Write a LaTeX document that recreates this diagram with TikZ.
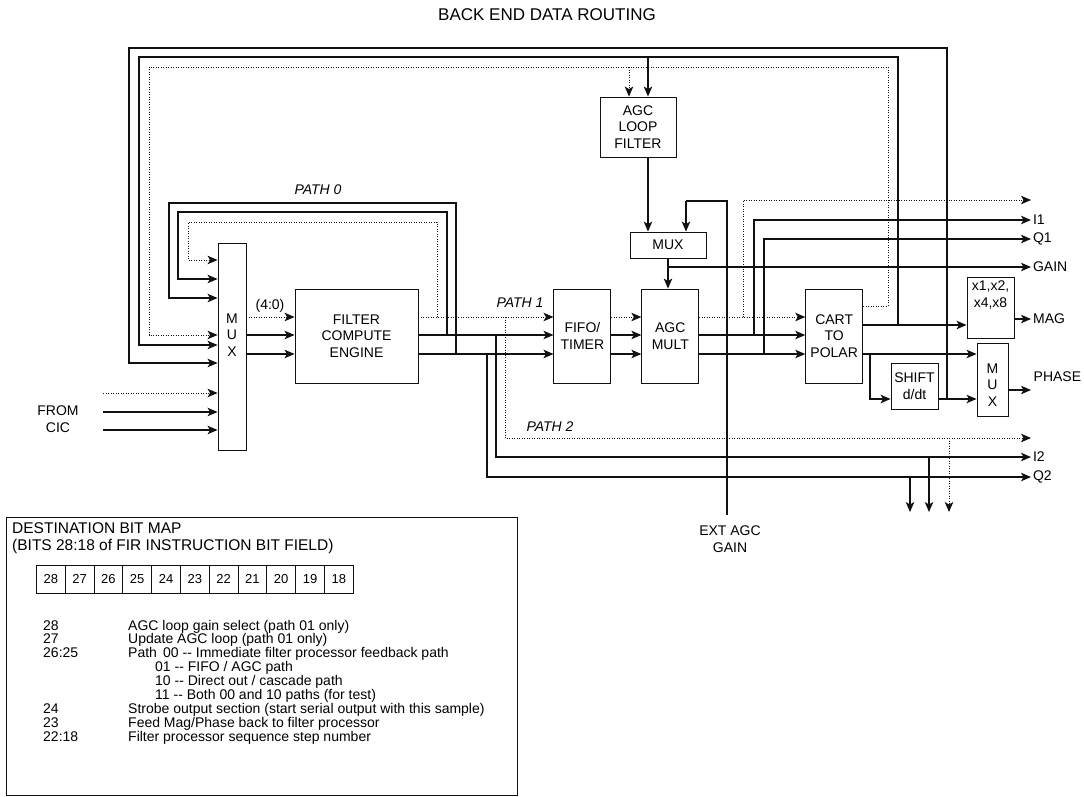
\documentclass[tikz,border=0pt]{standalone}
\usepackage{fontspec}
\setmainfont{Liberation Sans}
\usepackage{tikz}
\usetikzlibrary{arrows.meta,positioning,calc}
\definecolor{ink}{HTML}{111111}
\tikzset{
  routing diagram/.style={
    x=1pt, y=-1pt,
    font=\fontsize{14}{16.7}\selectfont,
    >={Stealth[length=10pt,width=8.5pt,inset=2.5pt]},
    line join=miter
  },
  blockbox/.style={
    draw=ink,
    line width=0.9pt,
    align=center,
    inner sep=0pt
  },
  lettertext/.style={align=center, inner sep=0pt},
  sigline/.style={draw=ink, line width=1.15pt},
  sigarrow/.style={sigline, ->},
  ctlline/.style={draw=ink, line width=0.9pt, dash pattern=on 0.9pt off 1.6pt},
  ctlarrow/.style={ctlline, ->},
  pathtag/.style={font=\fontsize{14}{16}\selectfont\itshape, inner sep=0pt},
  portlabel/.style={anchor=west, inner sep=1.5pt},
  bitcell/.style={
    draw=ink,
    line width=0.8pt,
    minimum width=28.8pt,
    minimum height=28pt,
    inner sep=0pt,
    font=\fontsize{13}{15}\selectfont
  },
  maphead/.style={anchor=west, inner sep=0pt, font=\fontsize{15.5}{17}\selectfont},
  maptext/.style={anchor=west, inner sep=0pt, text height=10pt, text depth=3pt,
    font=\fontsize{14}{15}\selectfont}
}
\begin{document}
\begin{tikzpicture}[routing diagram]
\fill[white] (0,0) rectangle (1084,796);
\useasboundingbox (0,0) rectangle (1084,796);

\node[font=\fontsize{17}{20}\selectfont] (title) at (547,15) {BACK END DATA ROUTING};

% main chain
\node[blockbox, minimum width=28pt, minimum height=207pt] (mux) at (232,346.5) {};
\node[lettertext] (muxtxt) at (232,335) {M\\U\\X};
\node[blockbox, minimum width=123pt, minimum height=94pt] (fce) at (356.5,336) {FILTER\\COMPUTE\\ENGINE};
\node[blockbox, minimum width=57pt, minimum height=94pt, right=135pt of fce] (fifo) {FIFO/\\TIMER};
\node[blockbox, minimum width=57pt, minimum height=94pt, right=30pt of fifo] (agcmult) {AGC\\MULT};
\node[blockbox, minimum width=57pt, minimum height=94pt, right=106pt of agcmult] (cart) {CART\\TO\\POLAR};

% agc loop
\node[blockbox, minimum width=76pt, minimum height=60pt] (agcfilt) at (638,127) {AGC\\LOOP\\FILTER};
\node[blockbox, minimum width=76pt, minimum height=26pt] (mux2) at (668,245) {MUX};

% output section
\node[blockbox, minimum width=47pt, minimum height=61pt] (scale) at (990.5,307.5) {};
\node[lettertext, anchor=north] (scaletxt) at ($(scale.north)+(0,4)$) {x1,x2,\\x4,x8};
\node[blockbox, minimum width=47pt, minimum height=46pt] (shift) at (914.5,386) {SHIFT\\d/dt};
\node[blockbox, minimum width=31pt, minimum height=73pt] (pmux) at (992.5,379.5) {};
\node[lettertext] (pmuxtxt) at (992.5,385) {M\\U\\X};

% labels
\node[align=center, inner sep=1pt] (cic) at (58,419) {FROM\\CIC};
\node[align=center, inner sep=1pt] (extagc) at (730,539) {EXT AGC\\GAIN};
\node[pathtag] (path0) at (318,190) {PATH 0};
\node[pathtag] (path1) at (520,303) {PATH 1};
\node[pathtag] (path2) at (550,427) {PATH 2};
\node[inner sep=0pt] (bitsel) at (270,306) {(4:0)};

% lanes and ports
\coordinate (laneA) at (0,317);
\coordinate (laneB) at (0,335);
\coordinate (laneC) at (0,354);
\coordinate (magLane) at (0,325);
\coordinate (dtLane) at (0,399);
\coordinate (outR) at (1031,0);
\foreach \y [count=\k] in {260,279,298,335,345,363,393,412,430}
  \coordinate (m\k) at (mux.west |- 0,\y);

\foreach \a/\b in {mux/fce,fce/fifo,fifo/agcmult,agcmult/cart} {
  \draw[ctlarrow] (\a.east |- laneA) -- (\b.west |- laneA);
  \draw[sigarrow] (\a.east |- laneB) -- (\b.west |- laneB);
  \draw[sigarrow] (\a.east |- laneC) -- (\b.west |- laneC);
}

% from cic
\coordinate (cicin) at (103,0);
\draw[ctlarrow] (cicin |- m7) -- (m7);
\draw[sigarrow] (cicin |- m8) -- (m8);
\draw[sigarrow] (cicin |- m9) -- (m9);

% path 0 feedback
\coordinate (p0dot) at (437,222);
\coordinate (p0i) at (447,212);
\coordinate (p0q) at (456,203);
\coordinate (p0dotL) at (188,222);
\coordinate (p0iL) at (178,212);
\coordinate (p0qL) at (169,203);
\draw[ctlarrow] (p0dot |- laneA) -- (p0dot) -- (p0dotL) |- (m1);
\draw[sigarrow] (p0i |- laneB) -- (p0i) -- (p0iL) |- (m2);
\draw[sigarrow] (p0q |- laneC) -- (p0q) -- (p0qL) |- (m3);

% long feedback
\coordinate (fbDot) at (888,67);
\coordinate (fbDotL) at (149,67);
\coordinate (fbMag) at (898,57);
\coordinate (fbMagL) at (139,57);
\coordinate (fbPh) at (947,48);
\coordinate (fbPhL) at (129,48);
\draw[ctlarrow] (cart.east |- 0,306) -| (fbDot) -- (fbDotL) |- (m4);
\draw[sigarrow] (fbMag |- magLane) -- (fbMag) -- (fbMagL) |- (m5);
\draw[sigarrow] (fbPh |- dtLane) -- (fbPh) -- (fbPhL) |- (m6);

% agc loop wiring
\coordinate (filtDot) at (629,67);
\coordinate (filtMag) at (648,57);
\draw[ctlarrow] (filtDot) -- (filtDot |- agcfilt.north);
\draw[sigarrow] (filtMag) -- (filtMag |- agcfilt.north);
\draw[sigarrow] (filtMag |- agcfilt.south) -- (filtMag |- mux2.north);
\coordinate (extBot) at (727,515);
\coordinate (extTop) at (727,201);
\coordinate (extIn) at (686,201);
\draw[sigline] (extBot) -- (extTop) -- (extIn);
\draw[sigarrow] (extIn) -- (extIn |- mux2.north);
\draw[sigarrow] (mux2.south) -- (mux2.south |- agcmult.north);
\coordinate (gainTap) at (668,267);
\draw[sigarrow] (gainTap) -- (gainTap -| outR) node[portlabel] (gain) {GAIN};

% path 1 outputs
\draw[ctlarrow] (743,0 |- laneA) |- (outR |- 0,200);
\draw[sigarrow] (754,0 |- laneB) |- (outR |- 0,220) node[portlabel] (i1) {I1};
\draw[sigarrow] (764,0 |- laneC) |- (outR |- 0,239) node[portlabel] (q1) {Q1};

% mag / phase
\draw[sigarrow] (cart.east |- magLane) -- (scale.west |- magLane);
\coordinate (oMag) at (1031,319);
\draw[sigarrow] (scale.east |- oMag) -- (oMag) node[portlabel] (mag) {MAG};
\draw[sigarrow] (cart.east |- laneC) -- (pmux.west |- laneC);
\coordinate (dtTap) at (870,354);
\draw[sigarrow] (dtTap) |- (shift.west |- dtLane);
\draw[sigarrow] (shift.east |- dtLane) -- (pmux.west |- dtLane);
\coordinate (oPh) at (1031,390);
\draw[sigarrow] (pmux.east |- oPh) -- (oPh);
\node[portlabel] (phase) at (1032,377) {PHASE};

% path 2 outputs
\coordinate (p2dot) at (505,438);
\coordinate (p2i) at (496,457);
\coordinate (p2q) at (487,477);
\draw[ctlarrow] (p2dot |- laneA) -- (p2dot) -- (outR |- p2dot);
\draw[sigarrow] (p2i |- laneB) -- (p2i) -- (outR |- p2i) node[portlabel] (i2) {I2};
\draw[sigarrow] (p2q |- laneC) -- (p2q) -- (outR |- p2q) node[portlabel] (q2) {Q2};
\coordinate (dnDot) at (949,512);
\coordinate (dnI) at (929,512);
\coordinate (dnQ) at (910,512);
\draw[ctlarrow] (dnDot |- p2dot) -- (dnDot);
\draw[sigarrow] (dnI |- p2i) -- (dnI);
\draw[sigarrow] (dnQ |- p2q) -- (dnQ);

% destination bit map
\node[draw=ink, line width=0.8pt, minimum width=511pt, minimum height=278pt, anchor=north west, inner sep=0pt] (bitmap) at (6,517) {};
\node[maphead] (maptitle) at (12,528) {DESTINATION BIT MAP};
\node[maphead] (mapsub) at (12,546) {(BITS 28:18 of FIR INSTRUCTION BIT FIELD)};
\foreach \b [count=\k] in {28,27,...,18}
  \node[bitcell, anchor=north west] (bit\b) at ({36+(\k-1)*28.8},565) {\b};
\foreach \y/\n [count=\k] in {627/28,640/27,654/26:25,710/24,724/23,738/22:18}
  \node[maptext] (num\k) at (43,\y) {\n};
\node[maptext] (row1) at (128,627) {AGC loop gain select (path 01 only)};
\node[maptext] (row2) at (128,640) {Update AGC loop (path 01 only)};
\node[maptext] (row3) at (128,654) {Path};
\node[maptext] (row3b) at (163,654) {00 -{}- Immediate filter processor feedback path};
\node[maptext] (row4) at (155,668) {01 -{}- FIFO / AGC path};
\node[maptext] (row5) at (155,682) {10 -{}- Direct out / cascade path};
\node[maptext] (row6) at (155,696) {11 -{}- Both 00 and 10 paths (for test)};
\node[maptext] (row7) at (128,710) {Strobe output section (start serial output with this sample)};
\node[maptext] (row8) at (128,724) {Feed Mag/Phase back to filter processor};
\node[maptext] (row9) at (128,738) {Filter processor sequence step number};
\end{tikzpicture}
\end{document}
